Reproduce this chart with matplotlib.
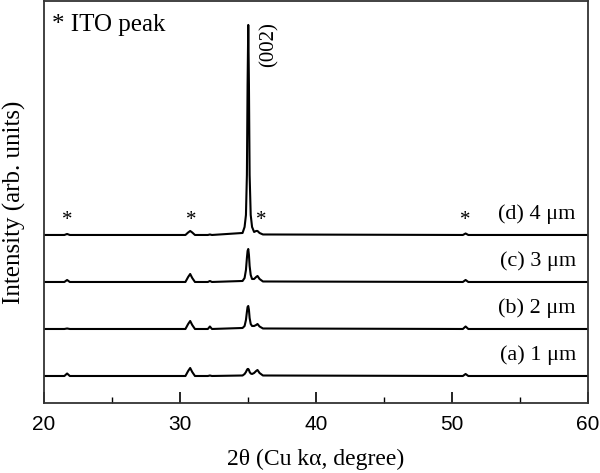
import matplotlib
matplotlib.use("Agg")
import matplotlib.pyplot as plt
from matplotlib.ticker import MultipleLocator

# 2-theta sample points (degree)
two_theta = [20, 21.5, 21.7, 21.9,
             30.4, 30.6, 30.75, 30.9, 31.1,
             32.05, 32.2, 32.35,
             34.6, 34.75, 34.85, 34.92, 34.97, 35.02, 35.07, 35.12, 35.2, 35.3,
             35.45, 35.6, 35.7, 35.85, 36.1,
             50.8, 51.0, 51.2, 60]

# intensities above each pattern's own baseline (arb. units)
int_a = [0, 0, 2.5, 0,
         0, 5, 8, 4, 0,
         0, 0.5, 0,
         0.5, 2, 4, 6, 7, 7, 6, 4, 2.5, 2, 3, 5, 6, 3, 0.5,
         0, 2, 0, 0]
int_b = [0, 0, 0.5, 0,
         0, 5, 8, 4, 0,
         0, 2.5, 0,
         1, 3, 9, 17, 22, 23, 19, 11, 5, 3, 3, 4, 5, 2.5, 0.5,
         0, 2.5, 0, 0]
int_c = [0, 0, 2, 0,
         0, 5, 8, 4, 0,
         0, 1, 0,
         1, 4, 12, 24, 31, 33, 27, 16, 7, 3, 3, 5, 6, 3, 0.5,
         0, 2, 0, 0]
int_d = [0, 0, 1, 0,
         0, 2.5, 4, 2.5, 0,
         0, 0.5, 0,
         2, 8, 20, 60, 150, 210, 150, 60, 20, 8, 3, 4, 4, 2, 0.5,
         0, 1.5, 0, 0]

offsets = [27, 74, 121, 168]
series = [int_a, int_b, int_c, int_d]
labels = ["(a) 1 \u03bcm", "(b) 2 \u03bcm", "(c) 3 \u03bcm", "(d) 4 \u03bcm"]
ito_peaks = [21.7, 30.8, 35.95, 51.0]

serif = ["Liberation Serif", "DejaVu Serif"]

fig = plt.figure(figsize=(6, 4.73), dpi=100)
ax = fig.add_axes([0.0733, 0.148, 0.9067, 0.85])

for ints, off in zip(series, offsets):
    ax.plot(two_theta, [v + off for v in ints], color="black", lw=1.5)

for lab, off in zip(labels, offsets):
    ax.text(59.1, off + 21, lab, ha="right", va="center", fontsize=16, family=serif)

for p in ito_peaks:
    ax.text(p, offsets[-1] + 14, "*", ha="center", va="center", fontsize=15, family=serif)

ax.text(0.015, 0.94, "* ITO peak", transform=ax.transAxes, ha="left", va="center",
        fontsize=18, family=serif)
ax.text(36.55, 358, "(002)", rotation=90, ha="center", va="center", fontsize=15, family=serif)

ax.set_xlim(20, 60)
ax.set_ylim(0, 402)
ax.set_yticks([])
ax.xaxis.set_major_locator(MultipleLocator(10))
ax.xaxis.set_minor_locator(MultipleLocator(5))
ax.tick_params(axis="x", which="major", direction="in", length=8, width=1.2,
               labelsize=15, pad=9)
ax.tick_params(axis="x", which="minor", direction="in", length=4, width=1.0)
for lbl in ax.get_xticklabels():
    lbl.set_family(["Liberation Sans", "DejaVu Sans"])
for s in ax.spines.values():
    s.set_linewidth(1.3)
    s.set_color("#333333")

ax.set_xlabel("2\u03b8 (Cu k\u03b1, degree)", fontsize=17, family=serif, labelpad=10)
ax.set_ylabel("Intensity (arb. units)", fontsize=18, family=serif, labelpad=13)

fig.savefig("out.png", dpi=100)
